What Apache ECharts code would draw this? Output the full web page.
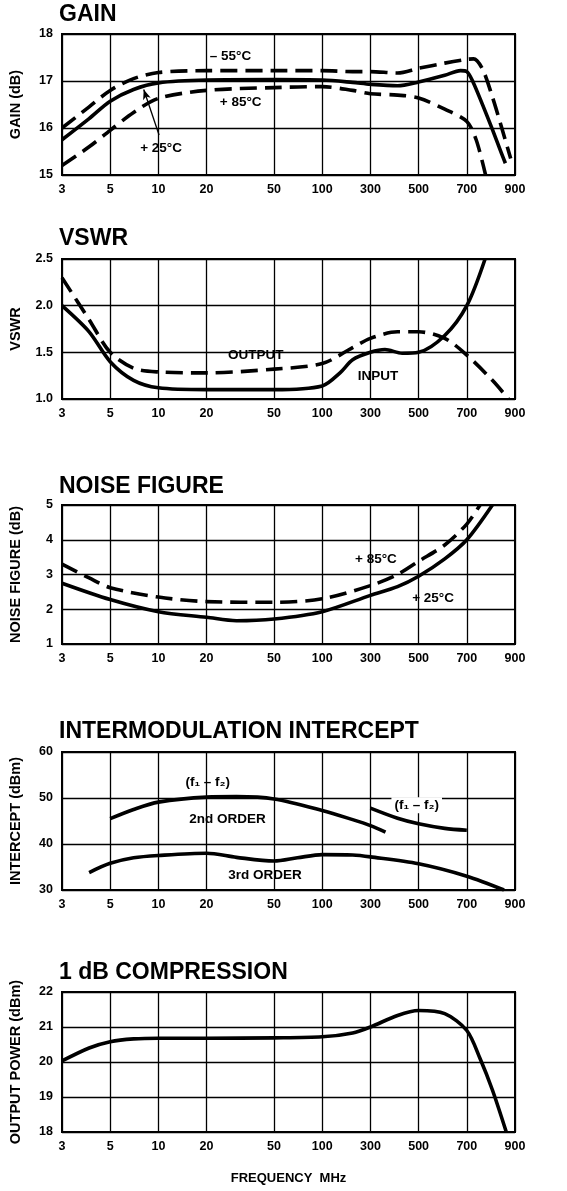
<!DOCTYPE html>
<html><head><meta charset="utf-8">
<script src="https://cdn.jsdelivr.net/npm/echarts@6/dist/echarts.min.js"></script>
<style>html,body{margin:0;padding:0;background:#fff}#c{width:567px;height:1191px}</style>
</head><body><div id="c"></div>
<script>
// ---------- X axis (frequency, MHz) ----------
const FREQ_TICKS = [3, 5, 10, 20, 50, 100, 300, 500, 700, 900];
const FREQ_TICK_LABELS = ['3', '5', '10', '20', '50', '100', '300', '500', '700', '900'];

// ---------- GAIN (dB) ----------
const gainFreqM55 = [3, 4, 5, 7, 10, 20, 50, 100, 200, 300, 400, 500, 600, 700, 725, 760, 800, 840, 880];
const gainM55     = [16.0, 16.45, 16.8, 17.05, 17.18, 17.22, 17.22, 17.22, 17.2, 17.2, 17.17, 17.27, 17.38, 17.46, 17.47, 17.25, 16.66, 16.0, 15.35];
const gainFreqP25 = [3, 4, 5, 7, 10, 20, 50, 100, 200, 300, 400, 500, 600, 670, 700, 723, 761, 799, 838, 856];
const gainP25     = [15.75, 16.2, 16.57, 16.82, 16.96, 17.02, 17.03, 17.02, 16.97, 16.93, 16.9, 16.98, 17.12, 17.22, 17.2, 16.98, 16.48, 15.98, 15.47, 15.25];
const gainFreqP85 = [3, 4, 5, 7, 10, 20, 50, 100, 200, 300, 400, 500, 600, 700, 735, 772];
const gainP85     = [15.2, 15.6, 15.95, 16.33, 16.63, 16.8, 16.86, 16.88, 16.8, 16.73, 16.7, 16.64, 16.4, 16.14, 15.75, 15.0];

// ---------- VSWR ----------
const vswrFreqIn  = [3, 4, 5, 7, 10, 20, 50, 100, 150, 200, 300, 350, 420, 500, 600, 700, 770];
const vswrIn      = [2.0, 1.72, 1.4, 1.2, 1.12, 1.1, 1.1, 1.14, 1.28, 1.42, 1.5, 1.53, 1.49, 1.5, 1.68, 2.0, 2.5];
const vswrFreqOut = [3, 4, 5, 7, 10, 20, 50, 100, 200, 300, 400, 500, 600, 700, 800, 870];
const vswrOut     = [2.3, 1.85, 1.5, 1.33, 1.29, 1.28, 1.32, 1.38, 1.55, 1.65, 1.72, 1.72, 1.65, 1.47, 1.2, 1.0];

// ---------- NOISE FIGURE (dB) ----------
const nfFreqP25 = [3, 5, 10, 20, 30, 50, 100, 300, 400, 500, 600, 700, 800];
const nfP25     = [2.75, 2.28, 1.93, 1.77, 1.67, 1.72, 1.93, 2.4, 2.65, 2.95, 3.45, 4.0, 5.0];
const nfFreqP85 = [3, 4, 5, 10, 20, 50, 100, 300, 400, 500, 600, 700, 750];
const nfP85     = [3.3, 2.9, 2.62, 2.35, 2.22, 2.2, 2.3, 2.68, 3.0, 3.38, 3.85, 4.45, 5.0];

// ---------- INTERMODULATION INTERCEPT (dBm) ----------
const imFreq2a = [5, 7, 10, 20, 30, 50, 100, 200, 300, 352];
const im2a     = [45.5, 47.5, 49.1, 50.2, 50.3, 49.8, 47.3, 45.3, 44.0, 42.6];
const imFreq2b = [300, 400, 500, 600, 700];
const im2b     = [47.8, 45.6, 44.4, 43.4, 43.0];
const imFreq3  = [4, 5, 7, 10, 20, 30, 50, 70, 100, 200, 300, 500, 700, 850];
const im3      = [33.8, 35.8, 37.0, 37.5, 38.0, 37.1, 36.3, 37.0, 37.7, 37.6, 37.2, 35.7, 33.0, 30.0];

// ---------- 1 dB COMPRESSION (dBm) ----------
const cmpFreq = [3, 4, 5, 7, 10, 20, 50, 100, 200, 300, 400, 500, 600, 700, 750, 800, 860];
const cmp     = [20.03, 20.4, 20.58, 20.66, 20.68, 20.68, 20.69, 20.72, 20.83, 21.0, 21.33, 21.47, 21.38, 20.9, 20.1, 19.2, 18.0];

// ---------- Text annotations (anchored in data coordinates) ----------
const gainNotes  = [{ text: '– 55°C', f: 27.7, v: 17.52 }, { text: '+ 85°C', f: 31.8, v: 16.54 }, { text: '+ 25°C', f: 10.4, v: 15.57 }];
const vswrNotes  = [{ text: 'OUTPUT', f: 39, v: 1.47 }, { text: 'INPUT', f: 325, v: 1.24 }];
const nfNotes    = [{ text: '+ 85°C', f: 318, v: 3.45 }, { text: '+ 25°C', f: 553, v: 2.33 }];
const imNotes    = [{ text: '(f₁ – f₂)', f: 20.3, v: 53.4 }, { text: '2nd ORDER', f: 26.6, v: 45.4 }, { text: '3rd ORDER', f: 44.2, v: 33.3 }];
const imNotesBg  = [{ text: '(f₁ – f₂)', f: 490, v: 48.4 }];
const gainArrow  = { from: { f: 10.1, v: 15.85 }, to: { f: 8.1, v: 16.82 } };

// ---------- scale: piecewise log between the printed frequency ticks ----------
const SEG_W = [1, 1, 1, 1.4, 1, 1, 1, 1, 1];
const TICK_POS = [0];
SEG_W.forEach(w => TICK_POS.push(+(TICK_POS[TICK_POS.length - 1] + w).toFixed(4)));
function fpos(f) {
  let i = 0;
  while (i < FREQ_TICKS.length - 2 && f > FREQ_TICKS[i + 1]) i++;
  const t = Math.log(f / FREQ_TICKS[i]) / Math.log(FREQ_TICKS[i + 1] / FREQ_TICKS[i]);
  return TICK_POS[i] + t * (TICK_POS[i + 1] - TICK_POS[i]);
}
function posLabel(v) {
  let best = 0;
  TICK_POS.forEach((p, i) => { if (Math.abs(p - v) < Math.abs(TICK_POS[best] - v)) best = i; });
  return FREQ_TICK_LABELS[best];
}

const FONT = "'Liberation Sans', Arial, Helvetica, sans-serif";
const panels = [
  { title: 'GAIN', name: 'GAIN (dB)', top: 34, h: 141, min: 15, max: 18, step: 1, dec: 0, titleTop: 3 },
  { title: 'VSWR', name: 'VSWR', top: 259, h: 140, min: 1, max: 2.5, step: 0.5, dec: 1, titleTop: 227 },
  { title: 'NOISE FIGURE', name: 'NOISE FIGURE (dB)', top: 505, h: 139, min: 1, max: 5, step: 1, dec: 0, titleTop: 475 },
  { title: 'INTERMODULATION INTERCEPT', name: 'INTERCEPT (dBm)', top: 752, h: 138, min: 30, max: 60, step: 10, dec: 0, titleTop: 720 },
  { title: '1 dB COMPRESSION', name: 'OUTPUT POWER (dBm)', top: 992, h: 140, min: 18, max: 22, step: 1, dec: 0, titleTop: 961 }
];

const grid = [], xAxis = [], yAxis = [], title = [], series = [];
panels.forEach((p, i) => {
  grid.push({ left: 61, width: 454, top: p.top, height: p.h, show: true, borderColor: '#000', borderWidth: 2, backgroundColor: 'transparent' });
  title.push({ text: p.title, left: 59, top: p.titleTop, padding: 0,
    textStyle: { fontFamily: FONT, fontSize: 23, fontWeight: 'bold', color: '#000' } });
  xAxis.push({
    gridIndex: i, type: 'value', min: 0, max: TICK_POS[TICK_POS.length - 1],
    axisLine: { show: false },
    axisTick: { show: false, customValues: TICK_POS },
    splitLine: { show: true, lineStyle: { color: '#000', width: 1.3 } },
    axisLabel: { customValues: TICK_POS, formatter: posLabel, margin: 8, showMinLabel: true, showMaxLabel: true,
      hideOverlap: false, fontFamily: FONT, fontSize: 12.5, fontWeight: 'bold', color: '#000' },
    name: i === panels.length - 1 ? 'FREQUENCY  MHz' : '',
    nameLocation: 'middle', nameGap: 40,
    nameTextStyle: { fontFamily: FONT, fontSize: 13, fontWeight: 'bold', color: '#000' }
  });
  yAxis.push({
    gridIndex: i, type: 'value', min: p.min, max: p.max, interval: p.step,
    axisLine: { show: false }, axisTick: { show: false },
    splitLine: { show: true, lineStyle: { color: '#000', width: 1.3 } },
    axisLabel: { margin: 9, formatter: v => v.toFixed(p.dec), fontFamily: FONT, fontSize: 12.5, fontWeight: 'bold', color: '#000' },
    name: p.name, nameLocation: 'middle', nameGap: 39,
    nameTextStyle: { fontFamily: FONT, fontSize: 14.5, fontWeight: 'bold', color: '#000' }
  });
});

function line(gi, freqs, vals, dashed, extra) {
  return Object.assign({
    type: 'line', xAxisIndex: gi, yAxisIndex: gi, silent: true,
    data: freqs.map((f, k) => [fpos(f), vals[k]]),
    smooth: 0.3, symbol: 'none', animation: false,
    lineStyle: { color: '#000', width: 3.6, type: dashed ? [17, 8] : 'solid', cap: 'butt', join: 'round' }
  }, extra || {});
}
function notes(list, bg) {
  return {
    symbol: 'rect', symbolSize: 1, silent: true, animation: false,
    itemStyle: { color: 'rgba(0,0,0,0)' },
    label: { show: true, position: 'inside', formatter: '{b}', fontFamily: FONT, fontSize: 13.5, fontWeight: 'bold', color: '#000',
      backgroundColor: bg ? '#fff' : 'transparent', padding: bg ? [1, 3] : 0 },
    data: list.map(n => ({ name: n.text, coord: [fpos(n.f), n.v] }))
  };
}

series.push(line(0, gainFreqM55, gainM55, true, { markPoint: notes(gainNotes) }));
series.push(line(0, gainFreqP25, gainP25, false, {
  markLine: { silent: true, animation: false, symbol: ['none', 'arrow'], symbolSize: [6, 10],
    lineStyle: { color: '#000', width: 1.3, type: 'solid' }, label: { show: false },
    data: [[{ coord: [fpos(gainArrow.from.f), gainArrow.from.v] }, { coord: [fpos(gainArrow.to.f), gainArrow.to.v] }]] }
}));
series.push(line(0, gainFreqP85, gainP85, true));
series.push(line(1, vswrFreqIn, vswrIn, false, { markPoint: notes(vswrNotes) }));
series.push(line(1, vswrFreqOut, vswrOut, true));
series.push(line(2, nfFreqP25, nfP25, false, { markPoint: notes(nfNotes) }));
series.push(line(2, nfFreqP85, nfP85, true));
series.push(line(3, imFreq2a, im2a, false, { markPoint: notes(imNotes) }));
series.push(line(3, imFreq2b, im2b, false, { markPoint: notes(imNotesBg, true) }));
series.push(line(3, imFreq3, im3, false));
series.push(line(4, cmpFreq, cmp, false));

const chart = echarts.init(document.getElementById('c'), null, { renderer: 'canvas' });
chart.setOption({ animation: false, backgroundColor: '#fff', title, grid, xAxis, yAxis, series });
</script></body></html>
